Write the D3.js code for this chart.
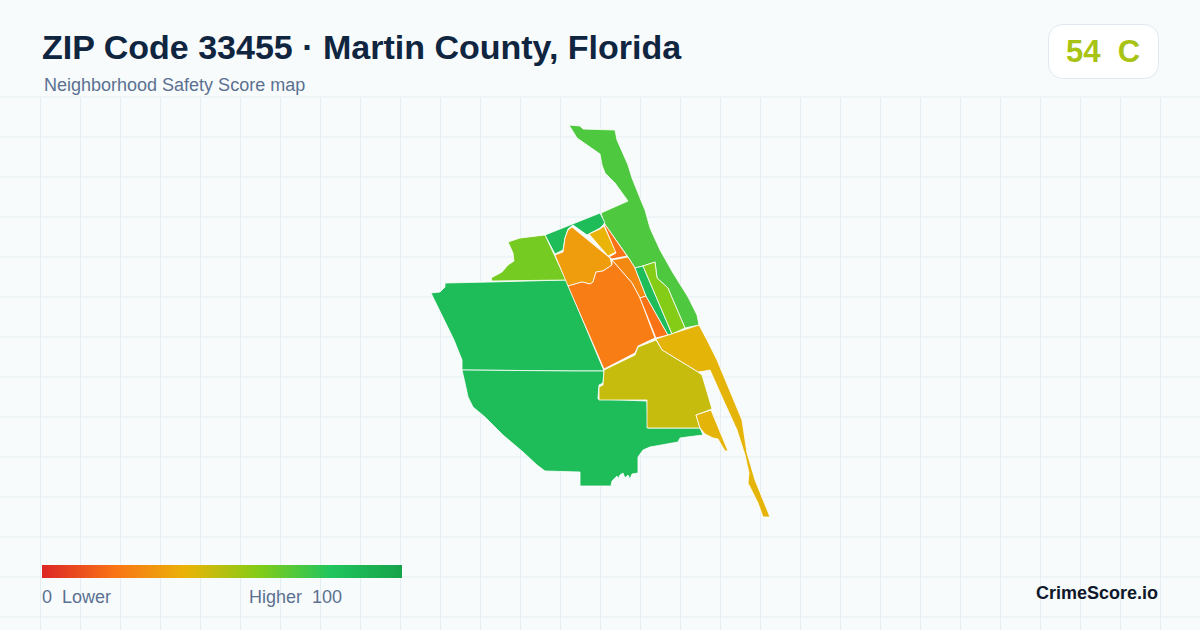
<!DOCTYPE html>
<html><head><meta charset="utf-8">
<script src="https://cdn.jsdelivr.net/npm/d3@7/dist/d3.min.js"></script>
<style>html,body{margin:0;padding:0;background:#f8fafc}svg{display:block}text{font-family:"Liberation Sans",Arial,sans-serif}</style>
</head><body><svg id="c" width="1200" height="630"></svg>
<script>
const title = "ZIP Code 33455 · Martin County, Florida";
const subtitle = "Neighborhood Safety Score map";
const scoreLabel = "54  C";
const legendLow = "0  Lower";
const legendHigh = "Higher  100";
const brand = "CrimeScore.io";
const scoreStops = [0,20,40,60,80,100];
const scoreColors = ["#dc2626","#f97316","#eab308","#84cc16","#22c55e","#16a34a"];

const northBarrier = [[-80.431,27.505],[-80.420,27.504],[-80.417,27.501],[-80.385,27.500],[-80.383,27.490],[-80.372,27.465],[-80.368,27.452],[-80.360,27.432],[-80.355,27.420],[-80.350,27.402],[-80.340,27.380],[-80.327,27.357],[-80.312,27.333],[-80.303,27.315],[-80.301,27.305],[-80.315,27.302],[-80.330,27.337],[-80.332,27.342],[-80.343,27.352],[-80.345,27.368],[-80.357,27.364],[-80.365,27.362],[-80.372,27.373],[-80.396,27.407],[-80.399,27.417],[-80.372,27.429],[-80.385,27.447],[-80.395,27.457],[-80.398,27.465],[-80.400,27.476],[-80.423,27.492]];
const northStrip = [[-80.455,27.395],[-80.400,27.417],[-80.395,27.407],[-80.400,27.402],[-80.413,27.395],[-80.427,27.405],[-80.432,27.401],[-80.435,27.392],[-80.437,27.380],[-80.445,27.376]];
const westLime = [[-80.492,27.388],[-80.480,27.392],[-80.455,27.395],[-80.434,27.350],[-80.508,27.349],[-80.509,27.352],[-80.498,27.358],[-80.492,27.365],[-80.486,27.369],[-80.487,27.377]];
const centralAmber = [[-80.428,27.403],[-80.390,27.372],[-80.388,27.365],[-80.397,27.359],[-80.404,27.358],[-80.407,27.348],[-80.410,27.346],[-80.418,27.348],[-80.432,27.344],[-80.445,27.375],[-80.437,27.378],[-80.435,27.392],[-80.432,27.400]];
const innerYellow = [[-80.411,27.396],[-80.400,27.401],[-80.396,27.404],[-80.384,27.378],[-80.392,27.374]];
const thinRedNorth = [[-80.396,27.407],[-80.373,27.374],[-80.388,27.371],[-80.391,27.373],[-80.384,27.377],[-80.395,27.403]];
const thinOrange = [[-80.388,27.370],[-80.372,27.373],[-80.365,27.362],[-80.354,27.334],[-80.360,27.332],[-80.368,27.347]];
const mainOrange = [[-80.432,27.344],[-80.418,27.348],[-80.410,27.346],[-80.407,27.348],[-80.404,27.358],[-80.397,27.359],[-80.388,27.365],[-80.388,27.370],[-80.368,27.347],[-80.360,27.332],[-80.345,27.292],[-80.362,27.284],[-80.365,27.277],[-80.396,27.261]];
const thinRedSouth = [[-80.360,27.332],[-80.354,27.334],[-80.332,27.295],[-80.344,27.292]];
const darkStrip = [[-80.365,27.362],[-80.357,27.364],[-80.328,27.296],[-80.332,27.295],[-80.354,27.334]];
const limeStrip = [[-80.357,27.364],[-80.345,27.368],[-80.343,27.352],[-80.332,27.342],[-80.330,27.337],[-80.315,27.302],[-80.328,27.296]];
const southBarrier = [[-80.344,27.291],[-80.301,27.305],[-80.293,27.290],[-80.283,27.270],[-80.258,27.210],[-80.253,27.177],[-80.245,27.150],[-80.230,27.113],[-80.237,27.113],[-80.242,27.127],[-80.252,27.147],[-80.251,27.157],[-80.255,27.175],[-80.263,27.200],[-80.278,27.233],[-80.290,27.260],[-80.295,27.259],[-80.302,27.258],[-80.338,27.280]];
const olive = [[-80.344,27.290],[-80.338,27.280],[-80.302,27.258],[-80.298,27.255],[-80.288,27.221],[-80.304,27.215],[-80.300,27.202],[-80.353,27.202],[-80.353,27.230],[-80.401,27.230],[-80.401,27.243],[-80.397,27.245],[-80.396,27.260],[-80.365,27.275],[-80.362,27.283]];
const smallYellow = [[-80.304,27.215],[-80.289,27.220],[-80.272,27.179],[-80.275,27.179],[-80.282,27.191],[-80.287,27.192],[-80.295,27.196],[-80.300,27.202]];
const westUpper = [[-80.569,27.337],[-80.560,27.338],[-80.555,27.343],[-80.555,27.347],[-80.510,27.348],[-80.472,27.349],[-80.434,27.350],[-80.396,27.259],[-80.424,27.259],[-80.538,27.260],[-80.538,27.270],[-80.542,27.280],[-80.546,27.290]];
const westLower = [[-80.538,27.260],[-80.424,27.259],[-80.396,27.259],[-80.397,27.247],[-80.401,27.245],[-80.402,27.231],[-80.353,27.229],[-80.352,27.202],[-80.300,27.202],[-80.297,27.195],[-80.313,27.193],[-80.320,27.192],[-80.322,27.188],[-80.350,27.183],[-80.357,27.180],[-80.362,27.173],[-80.362,27.157],[-80.368,27.156],[-80.370,27.151],[-80.372,27.155],[-80.375,27.152],[-80.377,27.157],[-80.380,27.155],[-80.382,27.151],[-80.383,27.154],[-80.388,27.149],[-80.389,27.144],[-80.420,27.144],[-80.420,27.158],[-80.455,27.159],[-80.463,27.165],[-80.477,27.178],[-80.497,27.195],[-80.515,27.213],[-80.527,27.223],[-80.532,27.233],[-80.535,27.247]];

const regions = [
  {ring:westUpper, score:85},{ring:westLower, score:85},
  {ring:northBarrier, score:71},{ring:northStrip, score:85},
  {ring:westLime, score:63},{ring:centralAmber, score:33},
  {ring:innerYellow, score:40},{ring:thinRedNorth, score:20},
  {ring:thinOrange, score:27},{ring:mainOrange, score:23},
  {ring:thinRedSouth, score:20},{ring:darkStrip, score:85},
  {ring:limeStrip, score:60},{ring:southBarrier, score:41},
  {ring:olive, score:47},{ring:smallYellow, score:41}
];

const W = 1200, H = 630;
const svg = d3.select("#c");
const lon = d3.scaleLinear().domain([-81,-79.8]).range([0,W]);
const lat = d3.scaleLinear().domain([27.63,27]).range([0,H]);
const color = d3.scaleLinear().domain(scoreStops).range(scoreColors).interpolate(d3.interpolateRgb);

svg.append("rect").attr("width",W).attr("height",H).attr("fill","#f8fbfc");

const grid = svg.append("g").attr("stroke","#e5eef2").attr("stroke-width",1);
grid.selectAll("line.v").data(d3.range(40,W,40)).join("line").attr("class","v")
  .attr("x1",d=>d+.5).attr("x2",d=>d+.5).attr("y1",97).attr("y2",H);
grid.selectAll("line.h").data(d3.range(97,H,40)).join("line").attr("class","h")
  .attr("y1",d=>d).attr("y2",d=>d).attr("x1",0).attr("x2",W);

const line = d3.line().x(d=>lon(d[0])).y(d=>lat(d[1])).curve(d3.curveLinearClosed);
svg.append("g").selectAll("path").data(regions).join("path")
  .attr("d",d=>line(d.ring)).attr("fill",d=>color(d.score))
  .attr("stroke","#ffffff").attr("stroke-width",0.8).attr("stroke-linejoin","round");

svg.append("text").attr("x",42).attr("y",59).attr("font-size",34).attr("font-weight",700).attr("fill","#0f2540").text(title);
svg.append("text").attr("x",44).attr("y",91).attr("font-size",18).attr("fill","#5b7191").text(subtitle);

svg.append("rect").attr("x",1048.5).attr("y",24.5).attr("width",110).attr("height",54).attr("rx",14)
  .attr("fill","#ffffff").attr("stroke","#e2e8f0");
svg.append("text").attr("x",1103).attr("y",62).attr("text-anchor","middle").attr("font-size",31).attr("font-weight",700)
  .attr("fill","#a8c313").style("white-space","pre").text(scoreLabel);

const defs = svg.append("defs");
const grad = defs.append("linearGradient").attr("id","lg");
grad.selectAll("stop").data(scoreStops).join("stop")
  .attr("offset",d=>d+"%").attr("stop-color",d=>color(d));
const legendX = d3.scaleLinear().domain([0,100]).range([42,402]);
svg.append("rect").attr("x",legendX(0)).attr("y",565).attr("width",legendX(100)-legendX(0)).attr("height",13).attr("fill","url(#lg)");
svg.append("text").attr("x",42).attr("y",603).attr("font-size",18).attr("fill","#5b7191").style("white-space","pre").text(legendLow);
svg.append("text").attr("x",249).attr("y",603).attr("font-size",18).attr("fill","#5b7191").style("white-space","pre").text(legendHigh);
svg.append("text").attr("x",1158).attr("y",599).attr("text-anchor","end").attr("font-size",18).attr("font-weight",700).attr("fill","#0f172a").text(brand);
</script></body></html>
